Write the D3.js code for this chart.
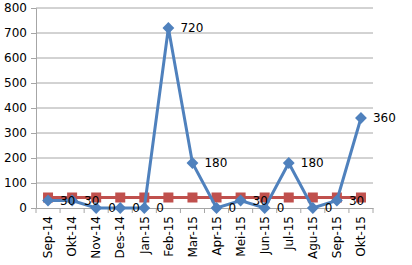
<!DOCTYPE html>
<html>
<head>
<meta charset="utf-8">
<script src="https://cdn.jsdelivr.net/npm/d3@7"></script>
<style>
  body { margin: 0; background: #fff; }
  svg { display: block; font-family: "DejaVu Sans", sans-serif; }
</style>
</head>
<body>
<svg width="412" height="265"></svg>
<script>
const months = ["Sep-14", "Okt-14", "Nov-14", "Des-14", "Jan-15", "Feb-15", "Mar-15",
    "Apr-15", "Mei-15", "Jun-15", "Jul-15", "Agu-15", "Sep-15", "Okt-15"];
const actual = [30, 30, 0, 0, 0, 720, 180, 0, 30, 0, 180, 0, 30, 360];
const target = [42, 42, 42, 42, 42, 42, 42, 42, 42, 42, 42, 42, 42, 42];
const yTicks = [0, 100, 200, 300, 400, 500, 600, 700, 800];

const svg = d3.select("svg");
const margin = { left: 36, right: 39, top: 8, bottom: 57 };
const width = 412 - margin.left - margin.right;
const height = 265 - margin.top - margin.bottom;

const g = svg.append("g").attr("transform", `translate(${margin.left},${margin.top})`);

const x = d3.scaleBand().domain(months).range([0, width]);
const y = d3.scaleLinear().domain([0, 800]).range([height, 0]);
const cx = d => x(d) + x.bandwidth() / 2;

// gridlines
g.selectAll(".grid")
    .data(yTicks.slice(1))
    .enter()
    .append("line")
    .attr("x1", 0)
    .attr("x2", width)
    .attr("y1", d => y(d))
    .attr("y2", d => y(d))
    .attr("stroke", "#a6a6a6")
    .attr("stroke-width", 1);

// y axis
const yAxis = g.append("g")
    .call(d3.axisLeft(y).tickValues(yTicks).tickSize(5).tickPadding(4));
yAxis.selectAll("path, line").attr("stroke", "#a6a6a6");
yAxis.selectAll("text").attr("font-size", 12).attr("fill", "#000")
    .attr("font-family", "DejaVu Sans, sans-serif");

// x axis
const xAxis = g.append("g")
    .attr("transform", `translate(0,${height})`)
    .call(d3.axisBottom(x).tickSize(0).tickSizeOuter(0));
xAxis.select("path").attr("stroke", "#a6a6a6");
xAxis.selectAll("text")
    .attr("font-size", 12)
    .attr("fill", "#000")
    .attr("font-family", "DejaVu Sans, sans-serif")
    .attr("transform", "rotate(-90)")
    .attr("text-anchor", "end")
    .attr("x", -8)
    .attr("y", 0)
    .attr("dy", "0.35em");

// tick marks between categories
g.selectAll(".xtick")
    .data(months.concat(["end"]))
    .enter()
    .append("line")
    .attr("x1", (d, i) => i * x.bandwidth())
    .attr("x2", (d, i) => i * x.bandwidth())
    .attr("y1", height)
    .attr("y2", height + 5)
    .attr("stroke", "#a6a6a6");

const line = d3.line().x((d, i) => cx(months[i])).y(d => y(d));

// target series (red)
g.append("path")
    .datum(target)
    .attr("d", line)
    .attr("fill", "none")
    .attr("stroke", "#c0504d")
    .attr("stroke-width", 3);

g.selectAll(".sq")
    .data(target)
    .enter()
    .append("rect")
    .attr("x", (d, i) => cx(months[i]) - 5)
    .attr("y", d => y(d) - 5)
    .attr("width", 10)
    .attr("height", 10)
    .attr("fill", "#c0504d");

// actual series (blue)
g.append("path")
    .datum(actual)
    .attr("d", line)
    .attr("fill", "none")
    .attr("stroke", "#4f81bd")
    .attr("stroke-width", 3);

g.selectAll(".dia")
    .data(actual)
    .enter()
    .append("path")
    .attr("d", d3.symbol().type(d3.symbolSquare).size(70))
    .attr("transform", (d, i) => `translate(${cx(months[i])},${y(d)}) rotate(45)`)
    .attr("fill", "#4f81bd");

// data labels
g.selectAll(".lbl")
    .data(actual)
    .enter()
    .append("text")
    .attr("x", (d, i) => cx(months[i]) + 12)
    .attr("y", d => y(d))
    .attr("dy", "0.35em")
    .attr("font-size", 12)
    .attr("fill", "#000")
    .text(d => d);
</script>
</body>
</html>
